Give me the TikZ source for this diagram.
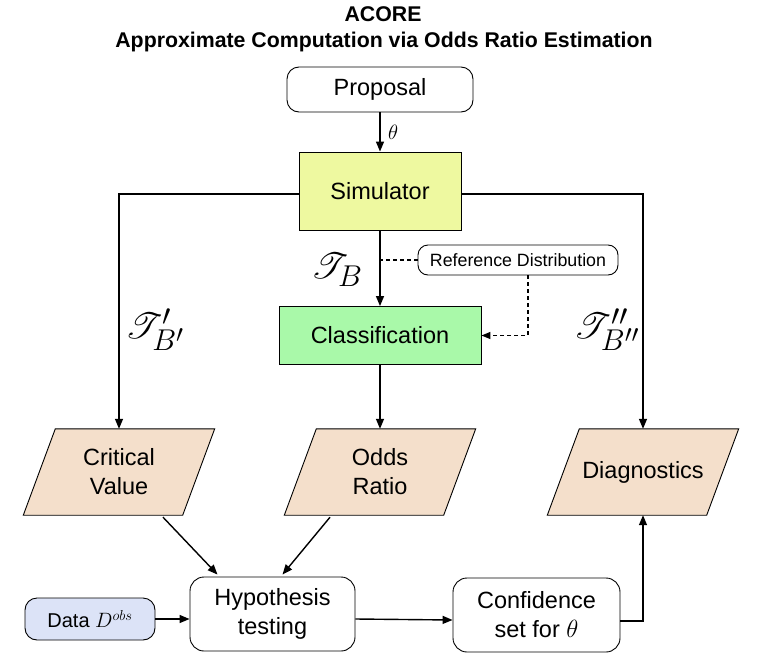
\documentclass[tikz,border=0pt]{standalone}
\usepackage{fontspec}
\setmainfont{Liberation Sans}
\usepackage{mathrsfs}
\usetikzlibrary{arrows.meta,calc,backgrounds}
\definecolor{simc}{HTML}{EEF9A0}
\definecolor{clsc}{HTML}{A9F9A9}
\definecolor{parac}{HTML}{F4DFCB}
\definecolor{datac}{HTML}{DCE3F7}
\tikzset{
  base/.style={font=\fontsize{23.5}{29}\selectfont, align=center, inner sep=0pt},
  rbox/.style={base, draw, line width=0.9pt, rounded corners=12pt},
  sbox/.style={base, draw, line width=0.9pt},
  pbox/.style={base, minimum width=159pt, minimum height=86pt},
  arr/.style={line width=1.4pt, -{Triangle[length=10pt,width=8pt]}},
  ln/.style={line width=1.4pt},
  dsh/.style={line width=1.2pt, dash pattern=on 4pt off 3pt},
  lbl/.style={inner sep=0pt, font=\fontsize{24.88}{28}\selectfont}
}
\newcommand{\parafill}[1]{%
  \begin{scope}[on background layer]
  \filldraw[fill=parac, draw=black, line width=0.9pt]
    ($(#1.south west)+(-16,0)$) -- ($(#1.south east)+(-16,0)$) --
    ($(#1.north east)+(16,0)$) -- ($(#1.north west)+(16,0)$) -- cycle;
  \end{scope}}
\begin{document}
\begin{tikzpicture}[x=1pt,y=-1pt]
\useasboundingbox (0,0) rectangle (766,656);
% title
\node[font=\bfseries\fontsize{21.3}{24}\selectfont] (t1) at (383,14) {ACORE};
\node[font=\bfseries\fontsize{21.3}{24}\selectfont] (t2) at (384,42) {Approximate Computation via Odds Ratio Estimation};
% nodes
\node[rbox, minimum width=186pt, minimum height=45pt] (prop) at (380,89.5) {Proposal};
\node[sbox, fill=simc, minimum width=162pt, minimum height=78pt] (sim) at (380,191) {Simulator};
\node[rbox, rounded corners=10pt, font=\fontsize{17.8}{20}\selectfont, minimum width=200pt, minimum height=30pt] (ref) at (518,260) {Reference Distribution};
\node[sbox, fill=clsc, minimum width=202pt, minimum height=58pt] (cls) at (380,335.5) {Classification};
\node[pbox] (cv) at (119,472) {Critical\\Value};
\node[pbox] (odds) at (380,472) {Odds\\Ratio};
\node[pbox] (diag) at (643,472) {Diagnostics};
\parafill{cv}\parafill{odds}\parafill{diag}
\node[rbox, rounded corners=14pt, minimum width=165pt, minimum height=74pt] (hyp) at (272.5,614) {Hypothesis\\testing};
\node[rbox, rounded corners=14pt, minimum width=167pt, minimum height=74pt] (conf) at (536.5,615) {Confidence\\set for $\theta$};
\node[rbox, fill=datac, font=\fontsize{20}{23}\selectfont, minimum width=130pt, minimum height=42pt] (data) at (90,619) {Data $D^{obs}$};
% labels
\node[lbl] (lb) at (337,270) {\scalebox{1.45}{$\mathscr{T}_{B}$}};
\node[lbl] (lbp) at (155,330) {\scalebox{1.45}{$\mathscr{T}'_{B'}$}};
\node[lbl] (lbpp) at (607,330) {\scalebox{1.45}{$\mathscr{T}''_{B''}$}};
% connectors
\draw[arr] (prop.south) -- node[right=4pt, font=\fontsize{22}{24}\selectfont] (th) {$\theta$} (sim.north);
\draw[arr] ($(sim.west)+(0,3)$) -| (cv.north);
\draw[arr] ($(sim.east)+(0,3)$) -| (diag.north);
\draw[arr] (sim.south) -- (cls.north);
\coordinate (j) at (ref.west -| sim.south);
\draw[dsh] (ref.west) -- (j);
\draw[dsh, -{Triangle[length=9pt,width=7pt]}] ($(ref.south)+(10,0)$) |- (cls.east);
\draw[arr] (cls.south) -- (odds.north);
\draw[arr] ($(cv.south)+(44,2)$) -- ($(hyp.north)+(-55,-2)$);
\draw[arr] ($(odds.south)+(-50,2)$) -- ($(hyp.north)+(10,-2)$);
\draw[arr] (data.east) -- (data.east -| hyp.west);
\draw[arr] ($(hyp.east)+(0,5)$) -- ($(conf.west)+(0,5)$);
\draw[arr] ($(conf.east)+(0,6)$) -| (diag.south);
\end{tikzpicture}
\end{document}
